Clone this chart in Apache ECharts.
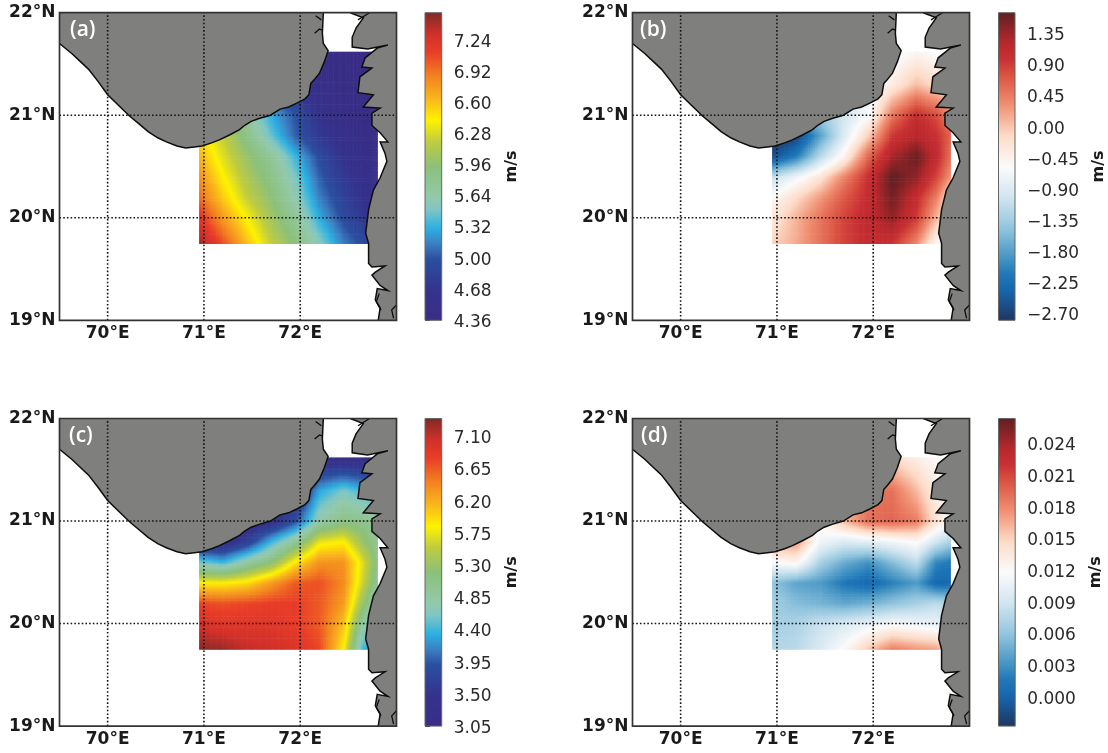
<!DOCTYPE html>
<html><head><meta charset="utf-8">
<style>html,body{margin:0;padding:0;background:#fff}#c{width:1108px;height:753px}</style>
<script src="https://cdn.jsdelivr.net/npm/echarts@6/dist/echarts.min.js"></script>
</head><body><div id="c"></div>
<script>
const lonNodes=[70.95,71.2,71.45,71.7,71.95,72.2,72.45,72.65,72.8];
const latNodes=[19.75,20,20.2,20.4,20.6,20.8,21,21.3,21.62];
// rows run south to north
const fieldA=[
[7.45,7.05,6.6,6.2,5.92,5.55,5.15,4.95,4.85],
[7.2,6.75,6.4,6.05,5.75,5.3,4.95,4.75,4.65],
[6.95,6.55,6.2,5.95,5.6,5.15,4.85,4.65,4.55],
[6.8,6.42,6.1,5.85,5.5,5.05,4.75,4.6,4.5],
[6.65,6.3,6.0,5.75,5.35,4.95,4.65,4.5,4.45],
[6.5,6.2,5.85,5.45,5.05,4.75,4.55,4.45,4.4],
[6.3,6.0,5.7,5.3,5.0,4.65,4.45,4.4,4.38],
[5.6,5.4,5.2,5.0,4.7,4.5,4.4,4.38,4.36],
[4.7,4.6,4.55,4.5,4.45,4.42,4.38,4.36,4.36]];
const fieldB=[
[-0.1,0.15,0.5,0.85,1.05,0.95,0.35,-0.5,-0.6],
[-0.3,0.1,0.5,0.85,1.1,1.4,0.9,0.1,-0.4],
[-0.55,-0.15,0.25,0.7,1.05,1.55,1.05,0.45,-0.3],
[-1.1,-0.7,-0.25,0.4,1.0,1.65,1.4,0.85,0.3],
[-2.6,-2.1,-1.2,-0.45,0.6,1.3,1.6,1.1,0.55],
[-2.8,-2.7,-1.8,-0.9,-0.05,0.95,1.2,1.0,0.65],
[-1.5,-1.5,-1.4,-1.0,-0.6,0.5,1.05,0.8,0.4],
[-1,-1,-1,-1,-0.8,-0.35,0.05,-0.15,-0.3],
[-0.6,-0.6,-0.6,-0.6,-0.6,-0.7,-0.5,-0.6,-0.6]];
const fieldC=[
[7.3,7.25,7.1,7.05,6.95,6.75,5.85,4.4,4.2],
[7.0,6.9,6.9,6.9,6.8,6.65,6.1,4.85,4.4],
[6.75,6.7,6.75,6.8,6.8,6.65,6.3,5.3,4.7],
[5.85,5.85,5.95,6.3,6.65,6.7,6.4,5.6,5.0],
[4.6,4.4,4.85,5.2,5.9,6.35,6.35,5.7,5.1],
[3.3,3.3,3.7,4.4,4.95,5.75,5.85,5.3,5.0],
[3.2,3.2,3.2,3.4,3.9,4.8,5.1,5.05,4.9],
[3.2,3.2,3.2,3.2,3.3,4.3,4.6,4.4,4.3],
[3.2,3.2,3.2,3.2,3.2,3.3,3.25,3.2,3.2]];
const fieldD=[
[0.0075,0.0078,0.0095,0.012,0.0155,0.0185,0.0175,0.017,0.015],
[0.0068,0.0072,0.0085,0.0095,0.0105,0.0115,0.011,0.0105,0.010],
[0.0068,0.0055,0.005,0.0042,0.0048,0.006,0.007,0.008,0.0075],
[0.006,0.004,0.0035,0.0015,0.0005,0.002,0.0035,0.0005,0.000],
[0.0115,0.0125,0.007,0.0045,0.003,0.0055,0.008,0.0025,0.0015],
[0.017,0.0175,0.011,0.0095,0.010,0.011,0.012,0.009,0.007],
[0.012,0.012,0.012,0.016,0.019,0.0195,0.0185,0.014,0.012],
[0.015,0.015,0.015,0.015,0.019,0.019,0.016,0.013,0.012],
[0.014,0.014,0.014,0.014,0.014,0.0145,0.013,0.012,0.012]];

const lonTicks=[70,71,72];
const latTicks=[19,20,21,22];
const westLand=[[69.5,21.7],[69.63,21.6],[69.72,21.52],[69.8,21.45],[69.9,21.33],[70,21.2],[70.12,21.09],[70.23,20.99],[70.32,20.92],[70.42,20.84],[70.52,20.78],[70.61,20.74],[70.72,20.7],[70.81,20.68],[70.9,20.69],[70.98,20.7],[71.08,20.73],[71.16,20.76],[71.27,20.81],[71.37,20.86],[71.42,20.9],[71.49,20.94],[71.58,20.97],[71.69,21.0],[71.79,21.06],[71.88,21.08],[71.97,21.12],[72.05,21.16],[72.09,21.2],[72.11,21.31],[72.14,21.34],[72.2,21.41],[72.25,21.52],[72.29,21.63],[72.24,21.7],[72.23,21.8],[72.24,22],[69.5,22]];
const eastLand=[[72.52,22],[72.655,21.95],[72.58,21.85],[72.54,21.76],[72.54,21.665],[72.7,21.645],[72.91,21.685],[72.8,21.655],[72.675,21.56],[72.64,21.47],[72.745,21.46],[72.62,21.375],[72.6,21.22],[72.76,21.2],[72.655,21.08],[72.83,21.07],[72.745,21.02],[72.745,20.9],[72.83,20.83],[72.91,20.74],[72.83,20.74],[72.88,20.63],[72.9,20.55],[72.83,20.39],[72.76,20.27],[72.71,20.08],[72.68,19.85],[72.71,19.75],[72.71,19.555],[72.745,19.52],[72.88,19.53],[72.78,19.47],[72.745,19.44],[72.83,19.34],[72.91,19.29],[72.8,19.31],[72.78,19.2],[72.83,19.12],[72.81,19],[73,19],[73,22]];
const inlets=[[[72.15,21.8],[72.2,21.84],[72.23,21.83]],[[72.16,21.97],[72.22,21.93]],[[72.82,19.26],[72.79,19.18],[72.84,19.1]],[[72.97,19.02],[72.95,19.1],[73,19.15]],[[72.72,22],[72.6,21.93]]];

const rainbowStops=[[0,'#3a2d85'],[0.1,'#35338d'],[0.2,'#2b4f9f'],[0.25,'#3c7fc2'],[0.3,'#2cb0e2'],[0.36,'#7fc6c4'],[0.4,'#93c9ab'],[0.5,'#8cc07a'],[0.58,'#bfcc3f'],[0.65,'#fff200'],[0.72,'#f9b51d'],[0.79,'#f3841f'],[0.87,'#e93d28'],[0.93,'#d0302a'],[1,'#7d2a26']];
const rdbuStops=[[0,'#1f3560'],[0.1,'#1767ae'],[0.15,'#1f77b8'],[0.2,'#4393c3'],[0.3,'#92c5de'],[0.4,'#d1e5f0'],[0.5,'#fbfbfb'],[0.6,'#fddbc7'],[0.7,'#f08f72'],[0.8,'#d95040'],[0.85,'#c83034'],[0.9,'#b8282c'],[1,'#5f1f22']];

const ticksA=[4.36,4.68,5.00,5.32,5.64,5.96,6.28,6.60,6.92,7.24];
const ticksB=[-2.70,-2.25,-1.80,-1.35,-0.90,-0.45,0.00,0.45,0.90,1.35];
const ticksC=[3.05,3.50,3.95,4.40,4.85,5.30,5.75,6.20,6.65,7.10];
const ticksD=[0.000,0.003,0.006,0.009,0.012,0.015,0.018,0.021,0.024];

const panels=[
{tag:'(a)',field:fieldA,stops:rainbowStops,min:4.355,max:7.52,ticks:ticksA,dec:2,left:59.5,top:12.7,cb:425,gap:62,tl:70,tt:20},
{tag:'(b)',field:fieldB,stops:rdbuStops,min:-2.806,max:1.65,ticks:ticksB,dec:2,left:632.5,top:12.7,cb:998.5,gap:76,tl:640,tt:20},
{tag:'(c)',field:fieldC,stops:rainbowStops,min:3.05,max:7.347,ticks:ticksC,dec:2,left:59.5,top:418.5,cb:425,gap:62,tl:69,tt:426},
{tag:'(d)',field:fieldD,stops:rdbuStops,min:-0.00278,max:0.02637,ticks:ticksD,dec:3,left:632.5,top:418.5,cb:998.5,gap:73,tl:641,tt:426}
];
const PW=337,PH=307.6;

function hex(c){return [parseInt(c.slice(1,3),16),parseInt(c.slice(3,5),16),parseInt(c.slice(5,7),16)];}
function colorOf(stops,t){
  t=Math.max(0,Math.min(1,t));
  for(let i=1;i<stops.length;i++){
    if(t<=stops[i][0]){
      const a=stops[i-1],b=stops[i],f=(t-a[0])/(b[0]-a[0]);
      const x=hex(a[1]),y=hex(b[1]);
      return 'rgb('+x.map((v,k)=>Math.round(v+(y[k]-v)*f)).join(',')+')';
    }
  }
  return stops[stops.length-1][1];
}
const font='"DejaVu Sans"';
const grids=[],xAxes=[],yAxes=[],series=[],titles=[];
const SUB=14;
panels.forEach((p,idx)=>{
  const g=idx*2,cg=idx*2+1;
  grids.push({left:p.left,top:p.top,width:PW,height:PH});
  grids.push({left:p.cb,top:p.top,width:16.7,height:PH});
  xAxes.push({gridIndex:g,type:'value',min:69.5,max:73,splitLine:{show:false},axisLine:{show:false},axisTick:{show:false},
    axisLabel:{customValues:lonTicks,formatter:v=>v+'°E',color:'#1a1a1a',fontFamily:font,fontWeight:'bold',fontSize:17,margin:5}});
  yAxes.push({gridIndex:g,type:'value',min:19,max:22,splitLine:{show:false},axisLine:{show:false},axisTick:{show:false},
    axisLabel:{customValues:latTicks,formatter:v=>v+'°N',color:'#1a1a1a',fontFamily:font,fontWeight:'bold',fontSize:17,margin:4}});
  xAxes.push({gridIndex:cg,type:'value',min:0,max:1,show:false});
  yAxes.push({gridIndex:cg,type:'value',position:'right',min:p.min,max:p.max,splitLine:{show:false},axisLine:{show:false},
    axisTick:{customValues:p.ticks,length:5,lineStyle:{color:'#333',width:1}},
    axisLabel:{customValues:p.ticks,formatter:v=>'{t|'+v.toFixed(p.dec).replace('-','\u2212')+'}',margin:12,
      rich:{t:{color:'#2a2a2a',fontFamily:font,fontSize:17,padding:[5,0,0,0]}}},
    name:'m/s',nameLocation:'middle',nameRotate:90,nameGap:p.gap,nameTextStyle:{fontFamily:font,fontWeight:'bold',fontSize:16,color:'#1a1a1a'}});
  const cells=[];
  for(let r=0;r<latNodes.length-1;r++)for(let c=0;c<lonNodes.length-1;c++){
    cells.push([lonNodes[c],latNodes[r],lonNodes[c+1],latNodes[r+1],p.field[r][c],p.field[r][c+1],p.field[r+1][c],p.field[r+1][c+1]]);
  }
  series.push({type:'custom',name:'field'+p.tag,xAxisIndex:g,yAxisIndex:g,silent:true,z:2,animation:false,clip:true,
    encode:{x:[0,2],y:[1,3]},data:cells,
    renderItem:(params,api)=>{
      const v=[0,1,2,3,4,5,6,7].map(i=>api.value(i));
      const a=api.coord([v[0],v[1]]),b=api.coord([v[2],v[3]]);
      const dx=(b[0]-a[0])/SUB,dy=(b[1]-a[1])/SUB;
      const kids=[];
      for(let i=0;i<SUB;i++)for(let j=0;j<SUB;j++){
        const u=(i+.5)/SUB,w=(j+.5)/SUB;
        const val=v[4]*(1-u)*(1-w)+v[5]*u*(1-w)+v[6]*(1-u)*w+v[7]*u*w;
        kids.push({type:'rect',shape:{x:a[0]+i*dx,y:a[1]+(j+1)*dy,width:dx+.6,height:-dy+.6},
          style:{fill:colorOf(p.stops,(val-p.min)/(p.max-p.min))}});
      }
      return {type:'group',children:kids};
    }});
  series.push({type:'custom',name:'land'+p.tag,xAxisIndex:g,yAxisIndex:g,silent:true,z:3,animation:false,clip:true,
    data:[[0]],
    renderItem:(params,api)=>{
      const kids=[];
      [westLand,eastLand].forEach((poly,k)=>{
        const pts=poly.map(q=>api.coord(q));
        kids.push({type:'polygon',shape:{points:pts},style:{fill:'#7f7f7d',stroke:null}});
        const n=k===0?poly.length-1:poly.length-2;
        kids.push({type:'polyline',shape:{points:pts.slice(0,n)},style:{fill:null,stroke:'#0d0d0d',lineWidth:1.5}});
      });
      inlets.forEach(l=>kids.push({type:'polyline',shape:{points:l.map(q=>api.coord(q))},style:{fill:null,stroke:'#0d0d0d',lineWidth:1.3}}));
      return {type:'group',children:kids};
    }});
  series.push({type:'custom',name:'graticule'+p.tag,xAxisIndex:g,yAxisIndex:g,silent:true,z:4,animation:false,clip:false,
    data:[[0]],
    renderItem:(params,api)=>{
      const kids=[];
      const dash={stroke:'#141414',lineWidth:1.6,lineDash:[1.6,2.1]};
      lonTicks.forEach(x=>{const a=api.coord([x,19]),b=api.coord([x,22]);
        kids.push({type:'line',shape:{x1:a[0],y1:a[1],x2:b[0],y2:b[1]},style:dash});});
      latTicks.slice(1,3).forEach(y=>{const a=api.coord([69.5,y]),b=api.coord([73,y]);
        kids.push({type:'line',shape:{x1:a[0],y1:a[1],x2:b[0],y2:b[1]},style:dash});});
      const s=api.coord([69.5,22]),e=api.coord([73,19]);
      kids.push({type:'rect',shape:{x:s[0],y:s[1],width:e[0]-s[0],height:e[1]-s[1]},style:{fill:null,stroke:'#333',lineWidth:1.7}});
      return {type:'group',children:kids};
    }});
  series.push({type:'custom',name:'colorbar'+p.tag,xAxisIndex:cg,yAxisIndex:cg,silent:true,z:2,animation:false,clip:false,
    data:[[0,p.min,1,p.max]],
    renderItem:(params,api)=>{
      const a=api.coord([api.value(0),api.value(1)]),b=api.coord([api.value(2),api.value(3)]);
      return {type:'rect',shape:{x:a[0],y:b[1],width:b[0]-a[0],height:a[1]-b[1]},
        style:{fill:new echarts.graphic.LinearGradient(0,1,0,0,p.stops.map(s=>({offset:s[0],color:s[1]}))),stroke:'#666',lineWidth:1}};
    }});
  titles.push({text:p.tag,left:p.tl,top:p.tt,padding:0,textStyle:{color:'#fff',fontFamily:'"Open Sans"',fontWeight:'600',fontSize:21}});
});
const chart=echarts.init(document.getElementById('c'),null,{renderer:'canvas'});
chart.setOption({animation:false,backgroundColor:'#fff',title:titles,grid:grids,xAxis:xAxes,yAxis:yAxes,series:series});
</script></body></html>
